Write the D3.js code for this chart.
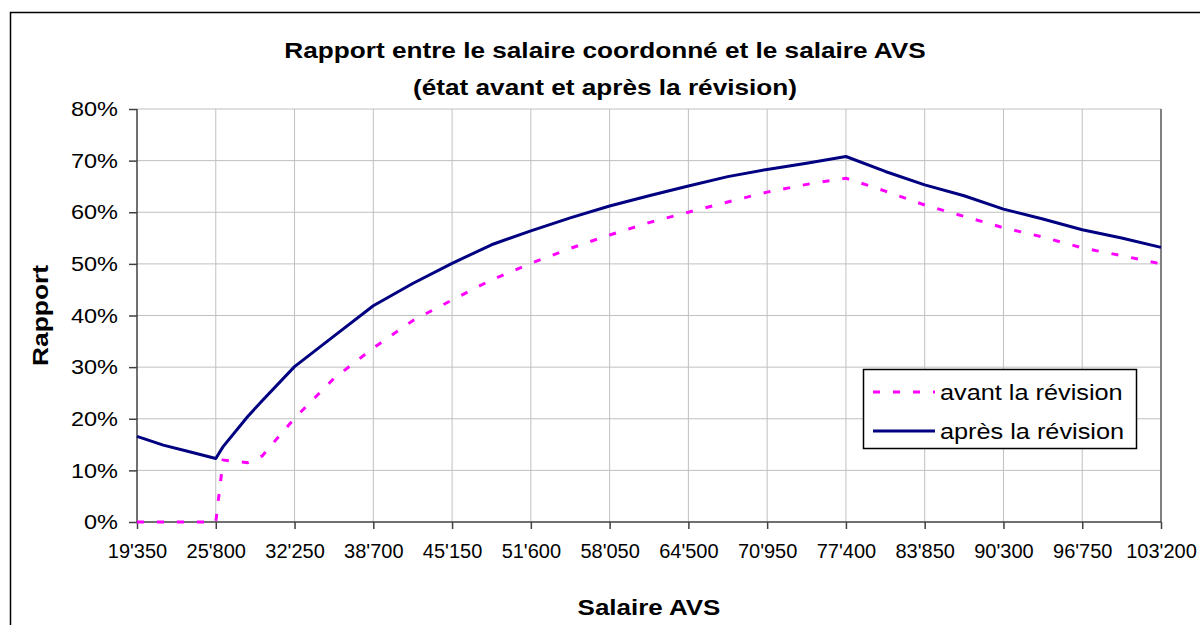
<!DOCTYPE html>
<html>
<head>
<meta charset="utf-8">
<script src="https://cdn.jsdelivr.net/npm/d3@7"></script>
<style>
    body { margin: 0; background: #fff; }
    svg text { font-family: "Liberation Sans", Arial, sans-serif; fill: #000; }
    .grid line { stroke: #c0c0c0; stroke-width: 1; }
    .axis path, .axis line { stroke: #404040; stroke-width: 1.5; }
</style>
</head>
<body>
<svg width="1200" height="625"></svg>
<script>
// Salaire AVS (x) and ratio in % for the two states
var salaries = [19350, 21500, 23650, 25800, 26400, 28400, 29600, 32250, 35475, 38700,
    41925, 45150, 48375, 51600, 54825, 58050, 61275, 64500, 67725, 70950,
    74175, 77400, 80625, 83850, 87075, 90300, 93525, 96750, 99975, 103200];
var avant = [0, 0, 0, 0, 12.0, 11.5, 12.8, 20.1, 27.8, 33.7,
    39.0, 43.0, 46.9, 50.1, 53.0, 55.6, 58.0, 60.0, 62.0, 63.9,
    65.4, 66.6, 64.1, 61.4, 59.2, 57.0, 55.2, 53.1, 51.6, 50.0];
var apres = [16.6, 14.9, 13.6, 12.3, 14.6, 20.4, 23.5, 30.1, 36.0, 41.9,
    46.2, 50.1, 53.7, 56.4, 58.9, 61.2, 63.2, 65.1, 66.9, 68.3,
    69.5, 70.8, 67.9, 65.3, 63.2, 60.6, 58.7, 56.6, 55.0, 53.2];
var xTicks = [19350, 25800, 32250, 38700, 45150, 51600, 58050, 64500,
    70950, 77400, 83850, 90300, 96750, 103200];
var yTicks = [0, 10, 20, 30, 40, 50, 60, 70, 80];
var seriesNames = ["avant la révision", "après la révision"];

var svg = d3.select("svg");
var plotLeft = 137, plotRight = 1161, plotTop = 109, plotBottom = 522;

var x = d3.scaleLinear().domain([19350, 103200]).range([plotLeft, plotRight]);
var y = d3.scaleLinear().domain([0, 80]).range([plotBottom, plotTop]);

var swiss = d3.formatLocale({ decimal: ".", thousands: "'", grouping: [3], currency: ["", ""] });
var fmtX = swiss.format(",");

// outer chart border
svg.append("rect")
    .attr("x", 10.5).attr("y", 12.5)
    .attr("width", 1250).attr("height", 700)
    .attr("fill", "none").attr("stroke", "#000").attr("stroke-width", 1.5);

// gridlines
var grid = svg.append("g").attr("class", "grid");
grid.selectAll(".h").data(yTicks.slice(1)).enter().append("line")
    .attr("x1", plotLeft).attr("x2", plotRight)
    .attr("y1", function(d) { return y(d); }).attr("y2", function(d) { return y(d); });
grid.selectAll(".v").data(xTicks.slice(1)).enter().append("line")
    .attr("y1", plotTop).attr("y2", plotBottom)
    .attr("x1", function(d) { return x(d); }).attr("x2", function(d) { return x(d); });

// right edge of plot
svg.append("line")
    .attr("x1", plotRight).attr("x2", plotRight).attr("y1", plotTop).attr("y2", plotBottom)
    .attr("stroke", "#808080").attr("stroke-width", 2);

// axes
var yAxis = d3.axisLeft(y).tickValues(yTicks).tickSize(8).tickPadding(10)
    .tickFormat(function(d) { return d + "%"; });
svg.append("g").attr("class", "axis")
    .attr("transform", "translate(" + plotLeft + ",0)")
    .call(yAxis)
    .call(function(g) { g.select(".domain").attr("d", "M0," + plotTop + "V" + plotBottom); })
    .selectAll("text")
    .attr("x", -17)
    .attr("transform", "scale(1.12,1)")
    .style("font-size", "21px");

var xAxis = d3.axisBottom(x).tickValues(xTicks).tickSize(7).tickPadding(15)
    .tickFormat(fmtX);
svg.append("g").attr("class", "axis")
    .attr("transform", "translate(0," + plotBottom + ")")
    .call(xAxis)
    .call(function(g) { g.select(".domain").attr("d", "M" + plotLeft + ",0H" + plotRight); })
    .selectAll("text").style("font-size", "20px");

// lines
var line = d3.line()
    .x(function(d) { return x(d[0]); })
    .y(function(d) { return y(d[1]); });

svg.append("path")
    .attr("d", line(d3.zip(salaries, avant)))
    .attr("fill", "none").attr("stroke", "#ff00ff").attr("stroke-width", 3)
    .attr("stroke-dasharray", "7,13");

svg.append("path")
    .attr("d", line(d3.zip(salaries, apres)))
    .attr("fill", "none").attr("stroke", "#000080").attr("stroke-width", 3)
    .attr("stroke-linejoin", "round");

// titles (the reference font is drawn a bit wider than normal)
svg.append("text")
    .attr("transform", "translate(605,58) scale(1.19,1)")
    .attr("text-anchor", "middle")
    .style("font-size", "22px").style("font-weight", "bold")
    .text("Rapport entre le salaire coordonné et le salaire AVS");
svg.append("text")
    .attr("transform", "translate(605,95) scale(1.19,1)")
    .attr("text-anchor", "middle")
    .style("font-size", "22px").style("font-weight", "bold")
    .text("(état avant et après la révision)");

svg.append("text")
    .attr("transform", "translate(" + ((plotLeft + plotRight) / 2) + ",615) scale(1.18,1)")
    .attr("text-anchor", "middle")
    .style("font-size", "22px").style("font-weight", "bold")
    .text("Salaire AVS");

svg.append("text")
    .attr("transform", "translate(48," + ((plotTop + plotBottom) / 2) + ") rotate(-90) scale(1.2,1)")
    .attr("text-anchor", "middle")
    .style("font-size", "22px").style("font-weight", "bold")
    .text("Rapport");

// legend
var legend = svg.append("g").attr("transform", "translate(863,369)");
legend.append("rect")
    .attr("x", 0.5).attr("y", 0.5).attr("width", 273).attr("height", 79)
    .attr("fill", "#fff").attr("stroke", "#000").attr("stroke-width", 1.5);

var items = legend.selectAll(".item")
    .data(seriesNames)
    .enter().append("g")
    .attr("transform", function(d, i) { return "translate(0," + (23 + i * 39) + ")"; });

items.append("line")
    .attr("x1", 10).attr("x2", 72)
    .attr("stroke", function(d, i) { return i == 0 ? "#ff00ff" : "#000080"; })
    .attr("stroke-width", 3)
    .attr("stroke-dasharray", function(d, i) { return i == 0 ? "7,13" : null; });

items.append("text")
    .attr("transform", "translate(77,8) scale(1.15,1)")
    .style("font-size", "22px")
    .text(function(d) { return d; });
</script>
</body>
</html>
